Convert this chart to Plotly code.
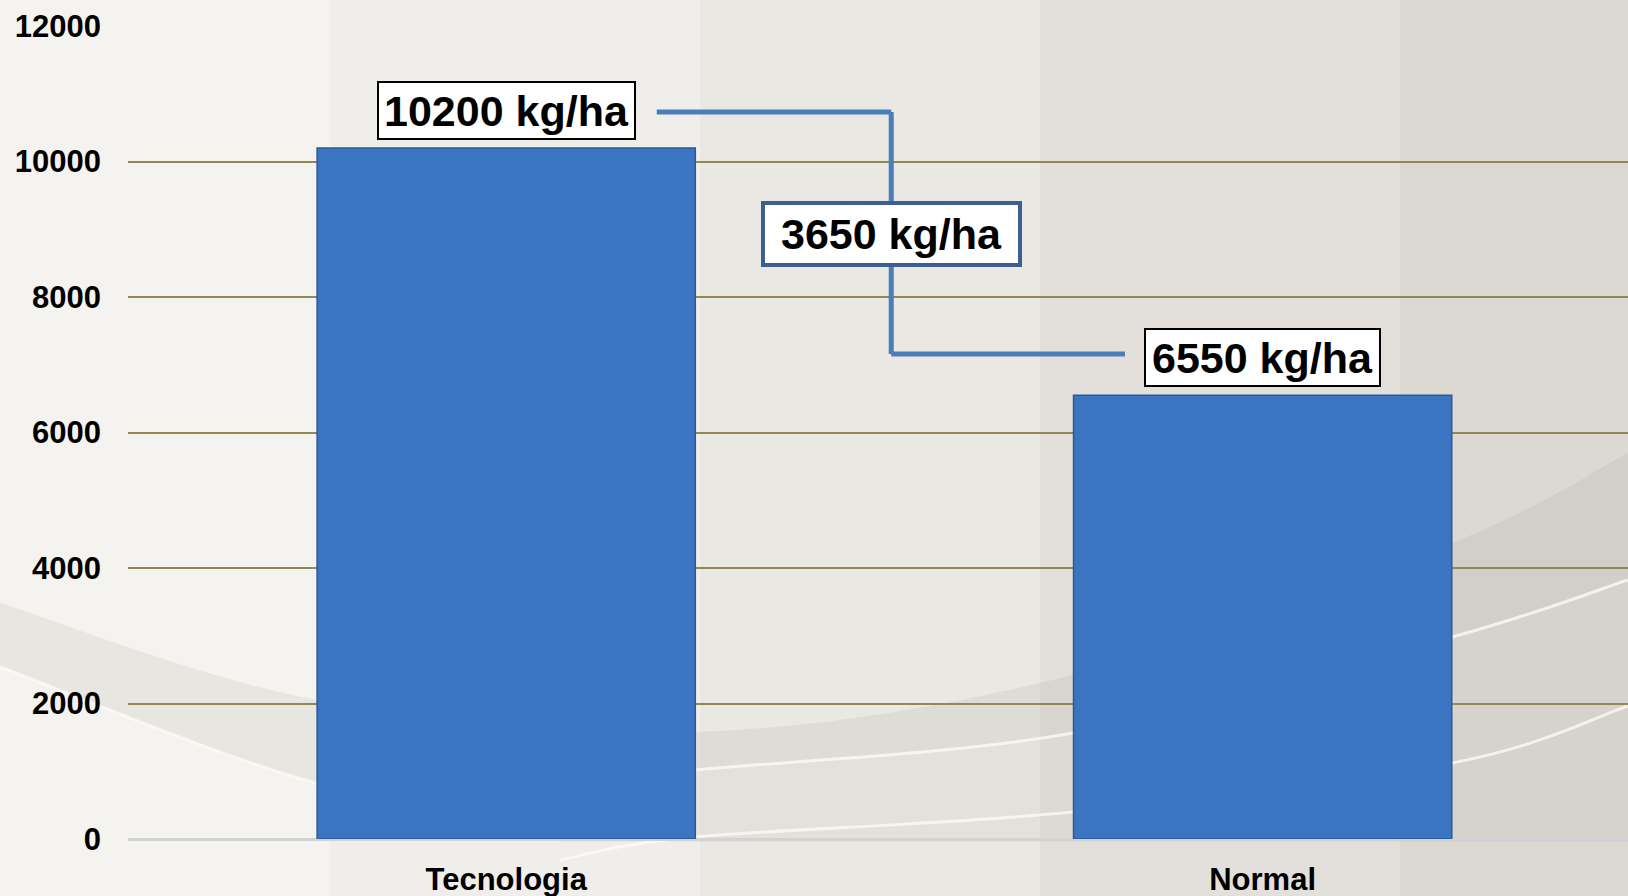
import plotly.graph_objects as go

# ---- data ----
categories = ["Tecnologia", "Normal"]
values = [10200, 6550]
unit = "kg/ha"
y_ticks = [0, 2000, 4000, 6000, 8000, 10000, 12000]
y_ticktext = ["0", "2000", "4000", "6000", "8000", "10000", "12000"]

W, H = 1628, 896
ML, MR, MT, MB = 128, 0, 26, 57
FONT = "Arial, 'Liberation Sans', Helvetica, sans-serif"

# helpers for background decoration (pixel -> paper coords)
PW, PH = W - ML - MR, H - MT - MB
def fx(px):
    return (px - ML) / PW
def fy(py):
    return (H - MB - py) / PH

def smooth(pts):
    """Catmull-Rom through pixel points -> SVG cubic path (paper coords)."""
    P = [(fx(x), fy(y)) for x, y in pts]
    s = "M {:.5f},{:.5f}".format(*P[0])
    for i in range(len(P) - 1):
        p0 = P[i - 1] if i > 0 else P[i]
        p1, p2 = P[i], P[i + 1]
        p3 = P[i + 2] if i + 2 < len(P) else P[i + 1]
        c1 = (p1[0] + (p2[0] - p0[0]) / 6, p1[1] + (p2[1] - p0[1]) / 6)
        c2 = (p2[0] - (p3[0] - p1[0]) / 6, p2[1] - (p3[1] - p1[1]) / 6)
        s += " C {:.5f},{:.5f} {:.5f},{:.5f} {:.5f},{:.5f}".format(*c1, *c2, *p2)
    return s

def line_to(pts):
    return "".join(" L {:.5f},{:.5f}".format(fx(x), fy(y)) for x, y in pts)

fig = go.Figure()
fig.add_trace(go.Bar(
    x=categories, y=values, width=0.5,
    marker=dict(color="#3b74c1", line=dict(color="#2c5896", width=1.5)),
    hoverinfo="x+y", showlegend=False,
))

shapes = []
# background panels (decoration)
panels = [
    (0, 330, "#f5f3ef"),
    (330, 700, "#f0eeea"),
    (700, 1040, "#eae8e3"),
    (1040, 1400, "#e3e0db"),
    (1400, 1628, "#dcd9d3"),
]
for a, b, c in panels:
    shapes.append(dict(type="rect", xref="paper", yref="paper", layer="below",
                       x0=fx(a), x1=fx(b), y0=fy(H), y1=fy(0),
                       fillcolor=c, line=dict(width=0)))

# swoosh: upper edge and two light lines
upper = [(0, 603), (317, 700), (695, 732), (1073, 675), (1452, 543), (1628, 453)]
w1 = [(0, 667), (317, 783), (500, 790), (695, 770), (1073, 733), (1452, 637), (1628, 580)]
w2 = [(560, 860), (695, 837), (1073, 812), (1452, 763), (1628, 706)]

band_path = smooth(upper) + line_to([(1628, 580)]) + \
    " " + smooth(list(reversed(w1))).replace("M", "L", 1) + " Z"
shapes.append(dict(type="path", xref="paper", yref="paper", layer="below",
                   path=band_path, fillcolor="rgba(110,100,85,0.09)", line=dict(width=0)))
lower_path = smooth(w1[3:]) + line_to([(1628, 842), (560, 842)]) + " Z"
shapes.append(dict(type="path", xref="paper", yref="paper", layer="below",
                   path=lower_path, fillcolor="rgba(110,100,85,0.05)", line=dict(width=0)))
for pts in (w1, w2):
    shapes.append(dict(type="path", xref="paper", yref="paper", layer="below",
                       path=smooth(pts), fillcolor="rgba(0,0,0,0)",
                       line=dict(color="rgba(252,250,246,0.8)", width=3)))

# connector lines between labels (annotation decoration)
conn_color = "#4a7dba"
y_top_level, y_bot_level = 10730, 7160
x_left, x_mid, x_right = 0.199, 0.509, 0.818
for x0, y0, x1, y1 in [(x_left, y_top_level, x_mid, y_top_level),
                       (x_mid, y_top_level, x_mid, y_bot_level),
                       (x_mid, y_bot_level, x_right, y_bot_level)]:
    shapes.append(dict(type="line", xref="x", yref="y", x0=x0, y0=y0, x1=x1, y1=y1,
                       line=dict(color=conn_color, width=5), layer="above"))

annotations = []
box_w = [255, 233]
for i, (c, v) in enumerate(zip(categories, values)):
    annotations.append(dict(
        x=i, y=v, xref="x", yref="y", text="<b>{} {}</b>".format(v, unit),
        showarrow=False, yanchor="bottom", yshift=8,
        font=dict(family=FONT, size=43, color="black"),
        bgcolor="white", bordercolor="black", borderwidth=2, borderpad=0,
        width=box_w[i], height=55,
    ))
diff = values[0] - values[1]
annotations.append(dict(
    x=x_mid, y=8930, xref="x", yref="y", text="<b>{} {}</b>".format(diff, unit),
    showarrow=False, yanchor="middle",
    font=dict(family=FONT, size=43, color="black"),
    bgcolor="white", bordercolor="#3b5f91", borderwidth=4, borderpad=0,
    width=253, height=58,
))

fig.update_layout(
    width=W, height=H,
    margin=dict(l=ML, r=MR, t=MT, b=MB, pad=0),
    paper_bgcolor="#eeece7", plot_bgcolor="rgba(0,0,0,0)",
    font=dict(family=FONT, size=31, color="black"),
    shapes=shapes, annotations=annotations,
    bargap=0.5,
    xaxis=dict(range=[-0.5, 1.483], showgrid=False, showline=False, ticks="",
               tickfont=dict(family=FONT, size=31, color="black", weight="bold"),
               ticklabelstandoff=19, fixedrange=True),
    yaxis=dict(range=[0, 12000], tickvals=y_ticks, ticktext=y_ticktext,
               showgrid=True, gridcolor="#918854", gridwidth=2,
               zeroline=True, zerolinecolor="#d2d2d2", zerolinewidth=3,
               showline=False, ticks="",
               tickfont=dict(family=FONT, size=31, color="black", weight="bold"),
               ticklabelstandoff=26, fixedrange=True),
)

fig.write_html("out.html", config={"displayModeBar": False},
               post_script="document.body.style.margin='0px';")
